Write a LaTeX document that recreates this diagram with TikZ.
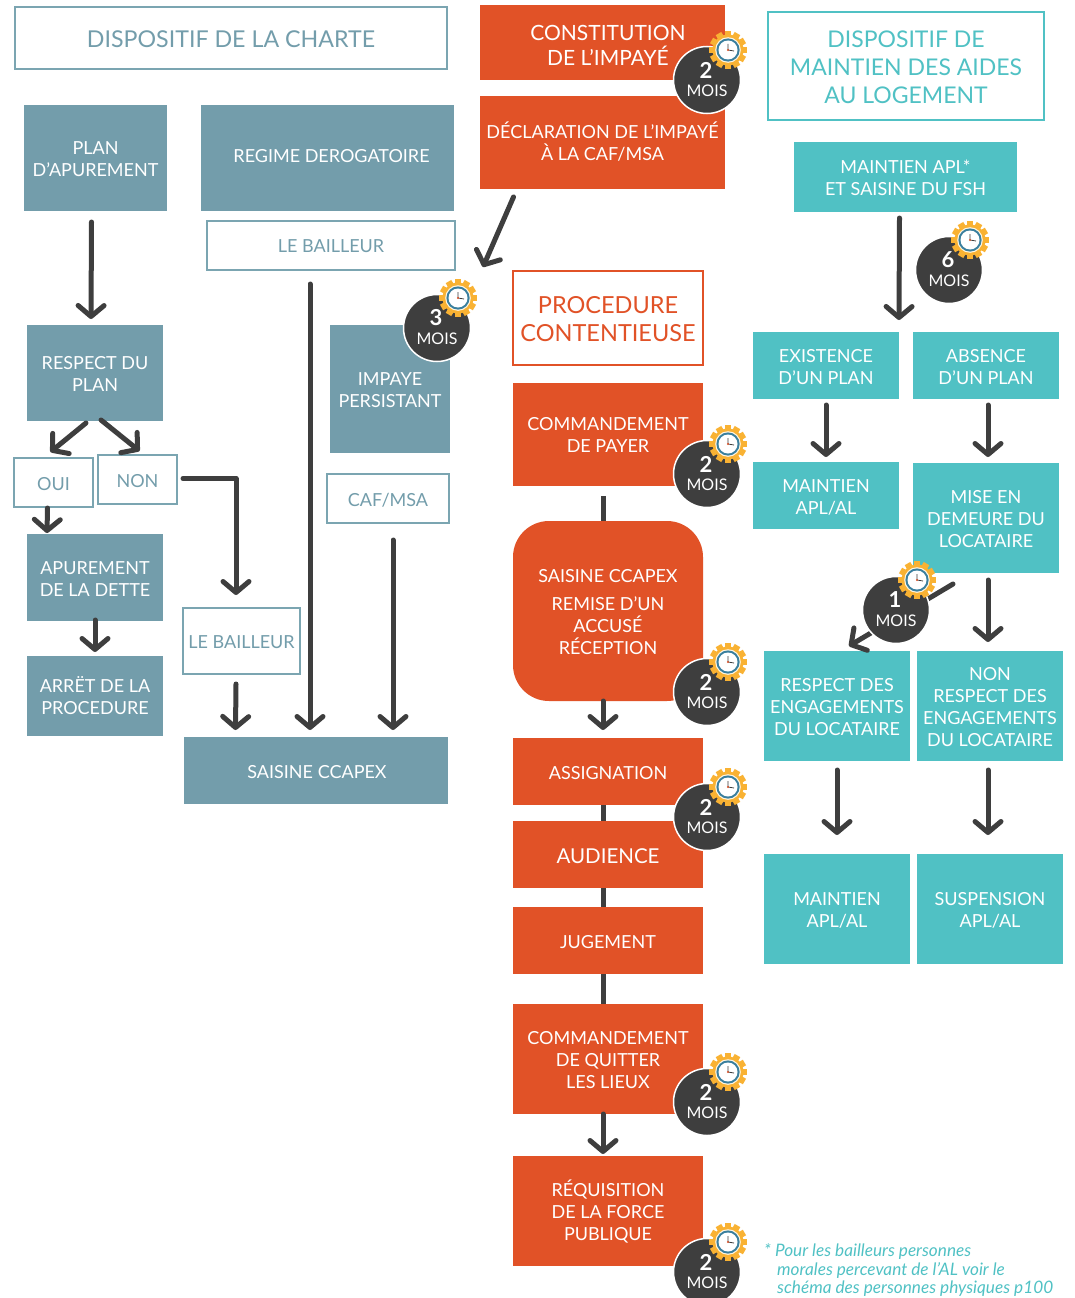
\documentclass[tikz,border=0pt]{standalone}
\usepackage{fontspec}
\setmainfont{Lato}
\usetikzlibrary{arrows.meta}
\definecolor{slate}{HTML}{739DAB}
\definecolor{slateline}{HTML}{7BA5B1}
\definecolor{rust}{HTML}{E15227}
\definecolor{teal}{HTML}{50C1C4}
\definecolor{ink}{HTML}{3E3E3E}
\definecolor{gearc}{HTML}{F9B233}
\definecolor{ringc}{HTML}{3A7F9E}
\tikzset{
  x=1pt,y=-1pt,
  basebox/.style={anchor=north west,inner sep=0pt,outer sep=0pt},
  slatebox/.style={basebox,fill=slate},
  rustbox/.style={basebox,fill=rust},
  tealbox/.style={basebox,fill=teal},
  slateout/.style={basebox,draw=slateline,line width=2.5pt,fill=white},
  rustout/.style={basebox,draw=rust,line width=2.5pt,fill=white},
  tealout/.style={basebox,draw=teal,line width=2.5pt,fill=white},
  basetxt/.style={inner sep=0pt,align=center,yshift=-1.5pt,font=\fontsize{18}{22}\selectfont},
  slateboxt/.style={basetxt,text=white},
  rustboxt/.style={basetxt,text=white},
  tealboxt/.style={basetxt,text=white},
  slateoutt/.style={basetxt,text=slate},
  rustoutt/.style={basetxt,text=rust,font=\fontsize{23.5}{28}\selectfont},
  tealoutt/.style={basetxt,text=teal,font=\fontsize{23}{28}\selectfont},
  arr/.style={draw=ink,line width=5pt,line cap=round,line join=round,-{Straight Barb[length=11pt,width=26pt,round]}},
  lin/.style={draw=ink,line width=5pt},
  badgedisc/.style={circle,fill=ink,draw=white,line width=1.5pt,minimum size=67pt,inner sep=0pt},
  badgetxt/.style={text=white,inner sep=0pt},
}
% [text options]{style}{x1}{y1}{x2}{y2}{name}{text}
\newcommand\bx[8][]{%
  \node[#2,minimum width={(#5-#3)*1pt},minimum height={(#6-#4)*1pt}] (#7) at (#3,#4) {};
  \node[#2t,#1] (#7t) at (#7.center) {#8};}
\newcommand\badge[4]{%
  \node[badgedisc] (#1) at (#3,#4) {};
  \node[badgetxt,font=\bfseries\fontsize{22}{22}\selectfont] (#1n) at (#3-1,#4-10) {#2};
  \node[badgetxt,font=\fontsize{16}{16}\selectfont] (#1m) at (#3,#4+11) {MOIS};
  \begin{scope}[shift={(#3+21,#4-30)}]
    \foreach \a in {0,30,...,330}{\fill[gearc,rotate=\a] (-3.2,-19) rectangle (3.2,0);}
    \fill[gearc] (0,0) circle (15.5);
    \fill[white!85!gearc] (0,0) circle (12.8);
    \fill[ringc] (0,0) circle (11.6);
    \fill[white] (0,0) circle (9.5);
    \draw[ink,line width=.8pt] (0,0) -- (0,-6) (0,0) -- (6,1);
    \fill[rust] (0,0) circle (1.2);
  \end{scope}}
\begin{document}
\begin{tikzpicture}
\clip (0,0) rectangle (1075,1298);
% left
\bx[font=\fontsize{23.2}{28}\selectfont]{slateout}{15}{7}{447}{69}{charte}{DISPOSITIF DE LA CHARTE}
\bx[yshift=0.8pt]{slatebox}{24}{105}{167}{211}{plan}{PLAN\\D’APUREMENT}
\bx[xshift=4pt,yshift=3.5pt]{slatebox}{201}{105}{454}{211}{regime}{REGIME DEROGATOIRE}
\bx[yshift=0.5pt]{slateout}{207}{221}{455}{270}{bail}{LE BAILLEUR}
\bx[yshift=1pt]{slatebox}{27}{325}{163}{421}{respect}{RESPECT DU\\PLAN}
\bx{slatebox}{330}{325}{450}{453}{impaye}{IMPAYE\\PERSISTANT}
\bx{slateout}{327}{474}{449}{523}{caf}{CAF/MSA}
\bx{slateout}{14}{458}{93}{507}{oui}{OUI}
\bx{slateout}{98}{455}{177}{504}{non}{NON}
\bx{slatebox}{27}{534}{163}{621}{apur}{APUREMENT\\DE LA DETTE}
\bx[yshift=1.5pt]{slatebox}{27}{656}{163}{736}{arret}{ARRËT DE LA\\PROCEDURE}
\bx{slateout}{183}{608}{300}{674}{bailb}{LE BAILLEUR}
\bx[xshift=1pt]{slatebox}{184}{737}{448}{804}{sais}{SAISINE CCAPEX}
% centre
\bx[xshift=5.5pt,yshift=-1pt,font=\fontsize{21}{25}\selectfont]{rustbox}{480}{5}{725}{80}{const}{CONSTITUTION\\DE L’IMPAYÉ}
\bx[yshift=2.5pt]{rustbox}{480}{96}{725}{189}{decl}{DÉCLARATION DE L’IMPAYÉ\\À LA CAF/MSA}
\bx{rustout}{513}{271}{703}{365}{proc}{PROCEDURE\\CONTENTIEUSE}
\bx[yshift=1.5pt]{rustbox}{513}{383}{703}{486}{cmd}{COMMANDEMENT\\DE PAYER}
\node[rustbox,rounded corners=36pt,minimum width=190pt,minimum height=180pt] (ccapex) at (513,521) {};
\node[rustboxt] (ccapext) at (ccapex.center) {SAISINE CCAPEX\\[6pt]REMISE D’UN\\ACCUSÉ\\RÉCEPTION};
\bx{rustbox}{513}{738}{703}{805}{assign}{ASSIGNATION}
\bx[font=\fontsize{20.5}{26}\selectfont]{rustbox}{513}{821}{703}{888}{aud}{AUDIENCE}
\bx{rustbox}{513}{907}{703}{974}{jug}{JUGEMENT}
\bx{rustbox}{513}{1004}{703}{1114}{quit}{COMMANDEMENT\\DE QUITTER\\LES LIEUX}
\bx[yshift=1.5pt]{rustbox}{513}{1156}{703}{1266}{req}{RÉQUISITION\\DE LA FORCE\\PUBLIQUE}
% right
\bx{tealout}{768}{12}{1044}{120}{disp}{DISPOSITIF DE\\MAINTIEN DES AIDES\\AU LOGEMENT}
\bx[yshift=1pt]{tealbox}{794}{142}{1017}{212}{mapl}{MAINTIEN APL*\\ET SAISINE DU FSH}
\bx{tealbox}{753}{332}{899}{399}{exist}{EXISTENCE\\D’UN PLAN}
\bx{tealbox}{913}{332}{1059}{399}{abs}{ABSENCE\\D’UN PLAN}
\bx{tealbox}{753}{462}{899}{529}{mainta}{MAINTIEN\\APL/AL}
\bx{tealbox}{913}{463}{1059}{573}{mise}{MISE EN\\DEMEURE DU\\LOCATAIRE}
\bx{tealbox}{764}{651}{910}{761}{resp}{RESPECT DES\\ENGAGEMENTS\\DU LOCATAIRE}
\bx{tealbox}{917}{651}{1063}{761}{nresp}{NON\\RESPECT DES\\ENGAGEMENTS\\DU LOCATAIRE}
\bx{tealbox}{764}{854}{910}{964}{maintb}{MAINTIEN\\APL/AL}
\bx{tealbox}{917}{854}{1063}{964}{susp}{SUSPENSION\\APL/AL}
% connectors
\draw[arr] ([shift={(-4,11)}]plan.south) -- ([shift={(-4,-6)}]respect.north);
\draw[arr] ([shift={(-9,2)}]respect.south) -- ([shift={(-3,-6)}]oui.north);
\draw[arr] ([shift={(6,-1)}]respect.south) -- ([shift={(2,-4)}]non.north);
\draw[arr] ([shift={(-6,1)}]oui.south) -- ([shift={(-48,-1)}]apur.north);
\draw[arr] ([shift={(0,-1)}]apur.south) -- ([shift={(0,-4)}]arret.north);
\draw[arr] ([shift={(6,-1)}]non.east) -| ([shift={(-5.5,-13)}]bailb.north);
\draw[arr] ([shift={(-5.5,10)}]bailb.south) -- ([shift={(-80.5,-7)}]sais.north);
\draw[arr] ([shift={(-21,14)}]bail.south) -- ([shift={(-6,-7)}]sais.north);
\draw[arr] ([shift={(5,17)}]caf.south) -- ([shift={(77,-7)}]sais.north);
\draw[arr] ([shift={(-89,8)}]decl.south) -- ([shift={(-125,-4)}]proc.north);
\draw[lin] ([shift={(-5,10)}]cmd.south) -- ([xshift=-5]ccapex.north);
\draw[arr] ([xshift=-5]ccapex.south) -- ([shift={(-5,-8)}]assign.north);
\draw[lin] ([xshift=-5]assign.south) -- ([xshift=-5]aud.north);
\draw[lin] ([xshift=-5]aud.south) -- ([xshift=-5]jug.north);
\draw[lin] ([xshift=-5]jug.south) -- ([xshift=-5]quit.north);
\draw[arr] ([xshift=-5]quit.south) -- ([shift={(-5,-2)}]req.north);
\draw[arr] ([shift={(-6,6)}]mapl.south) -- ([shift={(73,-12)}]exist.north);
\draw[arr] ([shift={(0,6)}]exist.south) -- ([shift={(0,-5)}]mainta.north);
\draw[arr] ([shift={(2,6)}]abs.south) -- ([shift={(2,-6)}]mise.north);
\draw[arr] ([shift={(-33,11)}]mise.south) -- ([shift={(12,-5)}]resp.north);
\draw[arr] ([shift={(2,7)}]mise.south) -- ([shift={(-2,-9)}]nresp.north);
\draw[arr] ([shift={(0,9)}]resp.south) -- ([shift={(0,-19)}]maintb.north);
\draw[arr] ([shift={(-2,9)}]nresp.south) -- ([shift={(-2,-19)}]susp.north);
% badges
\badge{ba}{2}{707}{80}
\badge{bb}{3}{437}{328}
\badge{bc}{6}{949}{270}
\badge{bd}{2}{707}{474}
\badge{be}{2}{707}{692}
\badge{bf}{2}{707}{817}
\badge{bg}{1}{896}{610}
\badge{bh}{2}{707}{1102}
\badge{bi}{2}{707}{1272}
% note
\node[anchor=north west,inner sep=0pt,align=left,text=teal,font=\itshape\fontsize{17.2}{18.5}\selectfont] (note) at (764,1243.5) {* Pour les bailleurs personnes\\\hspace*{13pt}morales percevant de l’AL voir le\\\hspace*{13pt}schéma des personnes physiques p100};
\end{tikzpicture}
\end{document}
